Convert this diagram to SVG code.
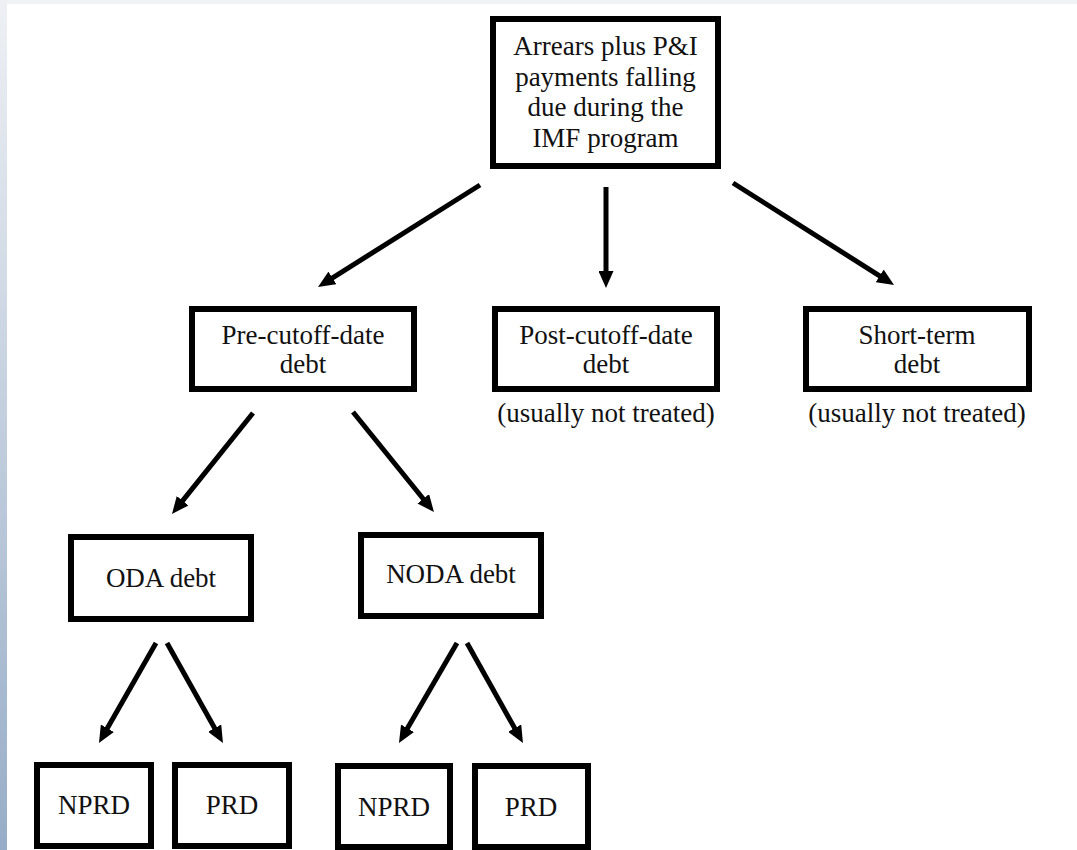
<svg xmlns="http://www.w3.org/2000/svg" width="1077" height="850" viewBox="0 0 1077 850">
  <defs>
    <linearGradient id="edge" x1="0" y1="0" x2="0" y2="1">
      <stop offset="0" stop-color="#eef0f4"/>
      <stop offset="1" stop-color="#97adc7"/>
    </linearGradient>
    <marker id="arrow" markerUnits="userSpaceOnUse" markerWidth="17" markerHeight="15" viewBox="0 0 17 15" refX="5" refY="7.5" orient="auto">
      <path d="M0,0 L17,7.5 L0,15 z" fill="#000"/>
    </marker>
    <style>
      .box { fill: #fff; stroke: #000; stroke-width: 6; }
      .t { font-family: "Liberation Serif", "Times New Roman", serif; font-size: 27px; fill: #111; text-anchor: middle; }
      .conn line { stroke: #000; stroke-width: 5; marker-end: url(#arrow); }
    </style>
  </defs>
  <rect x="0" y="0" width="1077" height="850" fill="#fff"/>
  <rect x="0" y="0" width="1077" height="4" fill="#f0f2f5"/>
  <rect x="0" y="0" width="7" height="850" fill="url(#edge)"/>

  <g id="root">
    <rect class="box" x="493" y="19" width="225" height="147"/>
    <text class="t" x="605.5" y="55">Arrears plus P&amp;I</text>
    <text class="t" x="605.5" y="85.7">payments falling</text>
    <text class="t" x="605.5" y="116.4">due during the</text>
    <text class="t" x="605.5" y="147">IMF program</text>
  </g>

  <g id="pre">
    <rect class="box" x="192" y="309" width="222" height="80"/>
    <text class="t" x="303" y="344">Pre-cutoff-date</text>
    <text class="t" x="303" y="373">debt</text>
  </g>

  <g id="post">
    <rect class="box" x="495" y="309" width="222" height="80"/>
    <text class="t" x="606" y="344">Post-cutoff-date</text>
    <text class="t" x="606" y="373">debt</text>
    <text class="t" x="606" y="422">(usually not treated)</text>
  </g>

  <g id="short">
    <rect class="box" x="806" y="309" width="223" height="80"/>
    <text class="t" x="917" y="344">Short-term</text>
    <text class="t" x="917" y="373">debt</text>
    <text class="t" x="917" y="422">(usually not treated)</text>
  </g>

  <g id="oda">
    <rect class="box" x="71" y="537" width="180" height="82"/>
    <text class="t" x="161" y="587">ODA debt</text>
  </g>

  <g id="noda">
    <rect class="box" x="361" y="535" width="180" height="81"/>
    <text class="t" x="451" y="583">NODA debt</text>
  </g>

  <g id="oda-nprd">
    <rect class="box" x="37" y="765" width="114" height="81"/>
    <text class="t" x="94" y="814">NPRD</text>
  </g>

  <g id="oda-prd">
    <rect class="box" x="175" y="765" width="114" height="81"/>
    <text class="t" x="232" y="814">PRD</text>
  </g>

  <g id="noda-nprd">
    <rect class="box" x="338" y="766" width="112" height="81"/>
    <text class="t" x="394" y="816">NPRD</text>
  </g>

  <g id="noda-prd">
    <rect class="box" x="475" y="766" width="113" height="81"/>
    <text class="t" x="531" y="816">PRD</text>
  </g>

  <g id="connectors" class="conn">
    <line x1="480" y1="185" x2="328.2" y2="280.6"/>
    <line x1="606" y1="187" x2="606" y2="276"/>
    <line x1="733" y1="183" x2="883.9" y2="278.6"/>
    <line x1="253" y1="413" x2="179.5" y2="504.6"/>
    <line x1="353" y1="412" x2="426.4" y2="502.7"/>
    <line x1="156" y1="643" x2="104.9" y2="732.6"/>
    <line x1="167" y1="643" x2="217.1" y2="732.5"/>
    <line x1="457" y1="643" x2="405" y2="732.6"/>
    <line x1="467" y1="643" x2="517.1" y2="732.5"/>
  </g>
</svg>
